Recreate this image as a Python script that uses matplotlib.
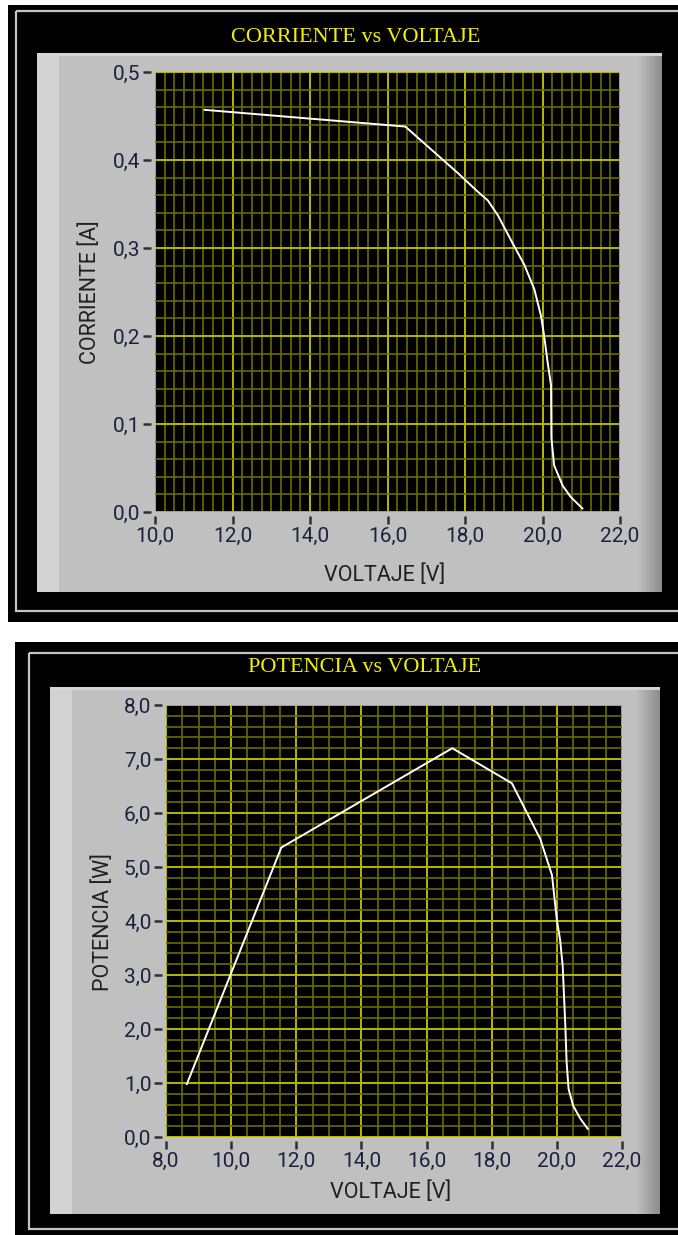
import matplotlib
matplotlib.use("Agg")
import matplotlib.pyplot as plt
import numpy as np
from matplotlib.patches import Rectangle
from matplotlib.ticker import MultipleLocator, FuncFormatter

# Figure size in pixels
W, H = 678, 1235

# I-V curve (top chart)
iv_volt = [11.28, 16.46, 17.82, 18.33, 18.59, 18.85, 19.27, 19.53, 19.79, 19.96,
           20.04, 20.13, 20.22, 20.23, 20.30, 20.52, 20.73, 21.03]
iv_curr = [0.457, 0.438, 0.385, 0.364, 0.354, 0.337, 0.302, 0.281, 0.253, 0.223,
           0.201, 0.171, 0.144, 0.084, 0.053, 0.030, 0.017, 0.004]

# P-V curve (bottom chart)
pv_volt = [8.64, 11.54, 16.79, 18.62, 19.49, 19.85, 20.00, 20.10, 20.18, 20.26,
           20.30, 20.36, 20.50, 20.72, 20.95]
pv_pow = [0.98, 5.36, 7.20, 6.55, 5.52, 4.85, 4.02, 3.65, 3.16, 2.06,
          1.38, 0.89, 0.58, 0.34, 0.15]

titles = ["CORRIENTE vs VOLTAJE", "POTENCIA vs VOLTAJE"]
xlabels = ["VOLTAJE [V]", "VOLTAJE [V]"]
ylabels = ["CORRIENTE [A]", "POTENCIA [W]"]

tick_font = ["Roboto", "DejaVu Sans"]
tick_color = "#1e2040"

fig = plt.figure(figsize=(W / 100, H / 100), dpi=100)
fig.patch.set_facecolor("white")

# background axes in pixel coordinates for the LabVIEW-like frames
bg = fig.add_axes([0, 0, 1, 1])
bg.set_xlim(0, W)
bg.set_ylim(H, 0)
bg.axis("off")


def rect(x0, y0, x1, y1, **kw):
    bg.add_patch(Rectangle((x0, y0), x1 - x0, y1 - y0, **kw))


def frame(x0, y0, y1, line_in, gx0, gy0, gx1, gy1):
    rect(x0, y0, W + 5, y1, facecolor="black", edgecolor="none")
    rect(x0 + line_in, y0 + line_in * 0.8, W + 5, y1 - 11,
         facecolor="none", edgecolor="#c4c4c4", lw=1.6)
    # grey panel
    rect(gx0, gy0, gx1, gy1, facecolor="#c0c0c0", edgecolor="none")
    rect(gx0, gy0, gx0 + 22, gy1, facecolor="#d2d2d2", edgecolor="none")
    rect(gx0, gy0, gx1, gy0 + 3, facecolor="#d6d6d6", edgecolor="none")
    grad = np.linspace(0, 1, 50).reshape(1, -1)
    bg.imshow(grad, extent=(gx1 - 24, gx1, gy1, gy0 + 3), aspect="auto",
              cmap=matplotlib.colors.LinearSegmentedColormap.from_list(
                  "g", ["#c0c0c0", "#8c8c8c"]), zorder=2)


frame(8, 5, 622, 8, 37, 53, 662, 592)
frame(15, 642, 1240, 14, 50, 687, 660, 1214)


def make_plot(box, xlim, ylim, xmaj, xmin, ymaj, ymin, xs, ys):
    x0, y0, x1, y1 = box
    ax = fig.add_axes([x0 / W, 1 - y1 / H, (x1 - x0) / W, (y1 - y0) / H])
    ax.set_facecolor("black")
    ax.set_xlim(*xlim)
    ax.set_ylim(*ylim)
    ax.xaxis.set_major_locator(MultipleLocator(xmaj))
    ax.xaxis.set_minor_locator(MultipleLocator(xmin))
    ax.yaxis.set_major_locator(MultipleLocator(ymaj))
    ax.yaxis.set_minor_locator(MultipleLocator(ymin))
    ax.grid(True, which="minor", color="#6a6a00", lw=1.2)
    ax.grid(True, which="major", color="#b8b800", lw=1.4)
    ax.set_axisbelow(True)
    fmt = FuncFormatter(lambda v, p: f"{v:.1f}".replace(".", ","))
    ax.xaxis.set_major_formatter(fmt)
    ax.yaxis.set_major_formatter(fmt)
    for s in ["top", "right"]:
        ax.spines[s].set_visible(False)
    for s in ["left", "bottom"]:
        ax.spines[s].set_position(("outward", 3))
        ax.spines[s].set_visible(False)
    ax.tick_params(which="minor", length=0)
    ax.tick_params(which="major", length=6, width=1.8, color="#303030",
                   labelsize=15, labelcolor=tick_color, pad=1.5)
    for lab in ax.get_xticklabels() + ax.get_yticklabels():
        lab.set_family(tick_font)
    ax.plot(xs, ys, color="white", lw=1.4, solid_joinstyle="round")
    return ax


make_plot((155, 72, 620, 512), (10, 22), (0, 0.5), 2, 0.25, 0.1, 0.02,
          iv_volt, iv_curr)
make_plot((166, 705, 622, 1137), (8, 22), (0, 8), 2, 0.5, 1, 0.2,
          pv_volt, pv_pow)

# titles and axis labels
fig.text(356 / W, 1 - 37 / H, titles[0], color="#f0f000", fontsize=16,
         family="Liberation Serif", ha="center", va="center")
fig.text(365 / W, 1 - 668 / H, titles[1], color="#f0f000", fontsize=16,
         family="Liberation Serif", ha="center", va="center")
fig.text(385 / W, 1 - 575 / H, xlabels[0], color="#202020", fontsize=15.5,
         family=tick_font, ha="center", va="center")
fig.text(391 / W, 1 - 1192 / H, xlabels[1], color="#202020", fontsize=15.5,
         family=tick_font, ha="center", va="center")
fig.text(90 / W, 1 - 292 / H, ylabels[0], color="#202020", fontsize=15.5,
         family=tick_font, ha="center", va="center", rotation=90)
fig.text(103 / W, 1 - 922 / H, ylabels[1], color="#202020", fontsize=15.5,
         family=tick_font, ha="center", va="center", rotation=90)

fig.savefig("out.png", dpi=100)
